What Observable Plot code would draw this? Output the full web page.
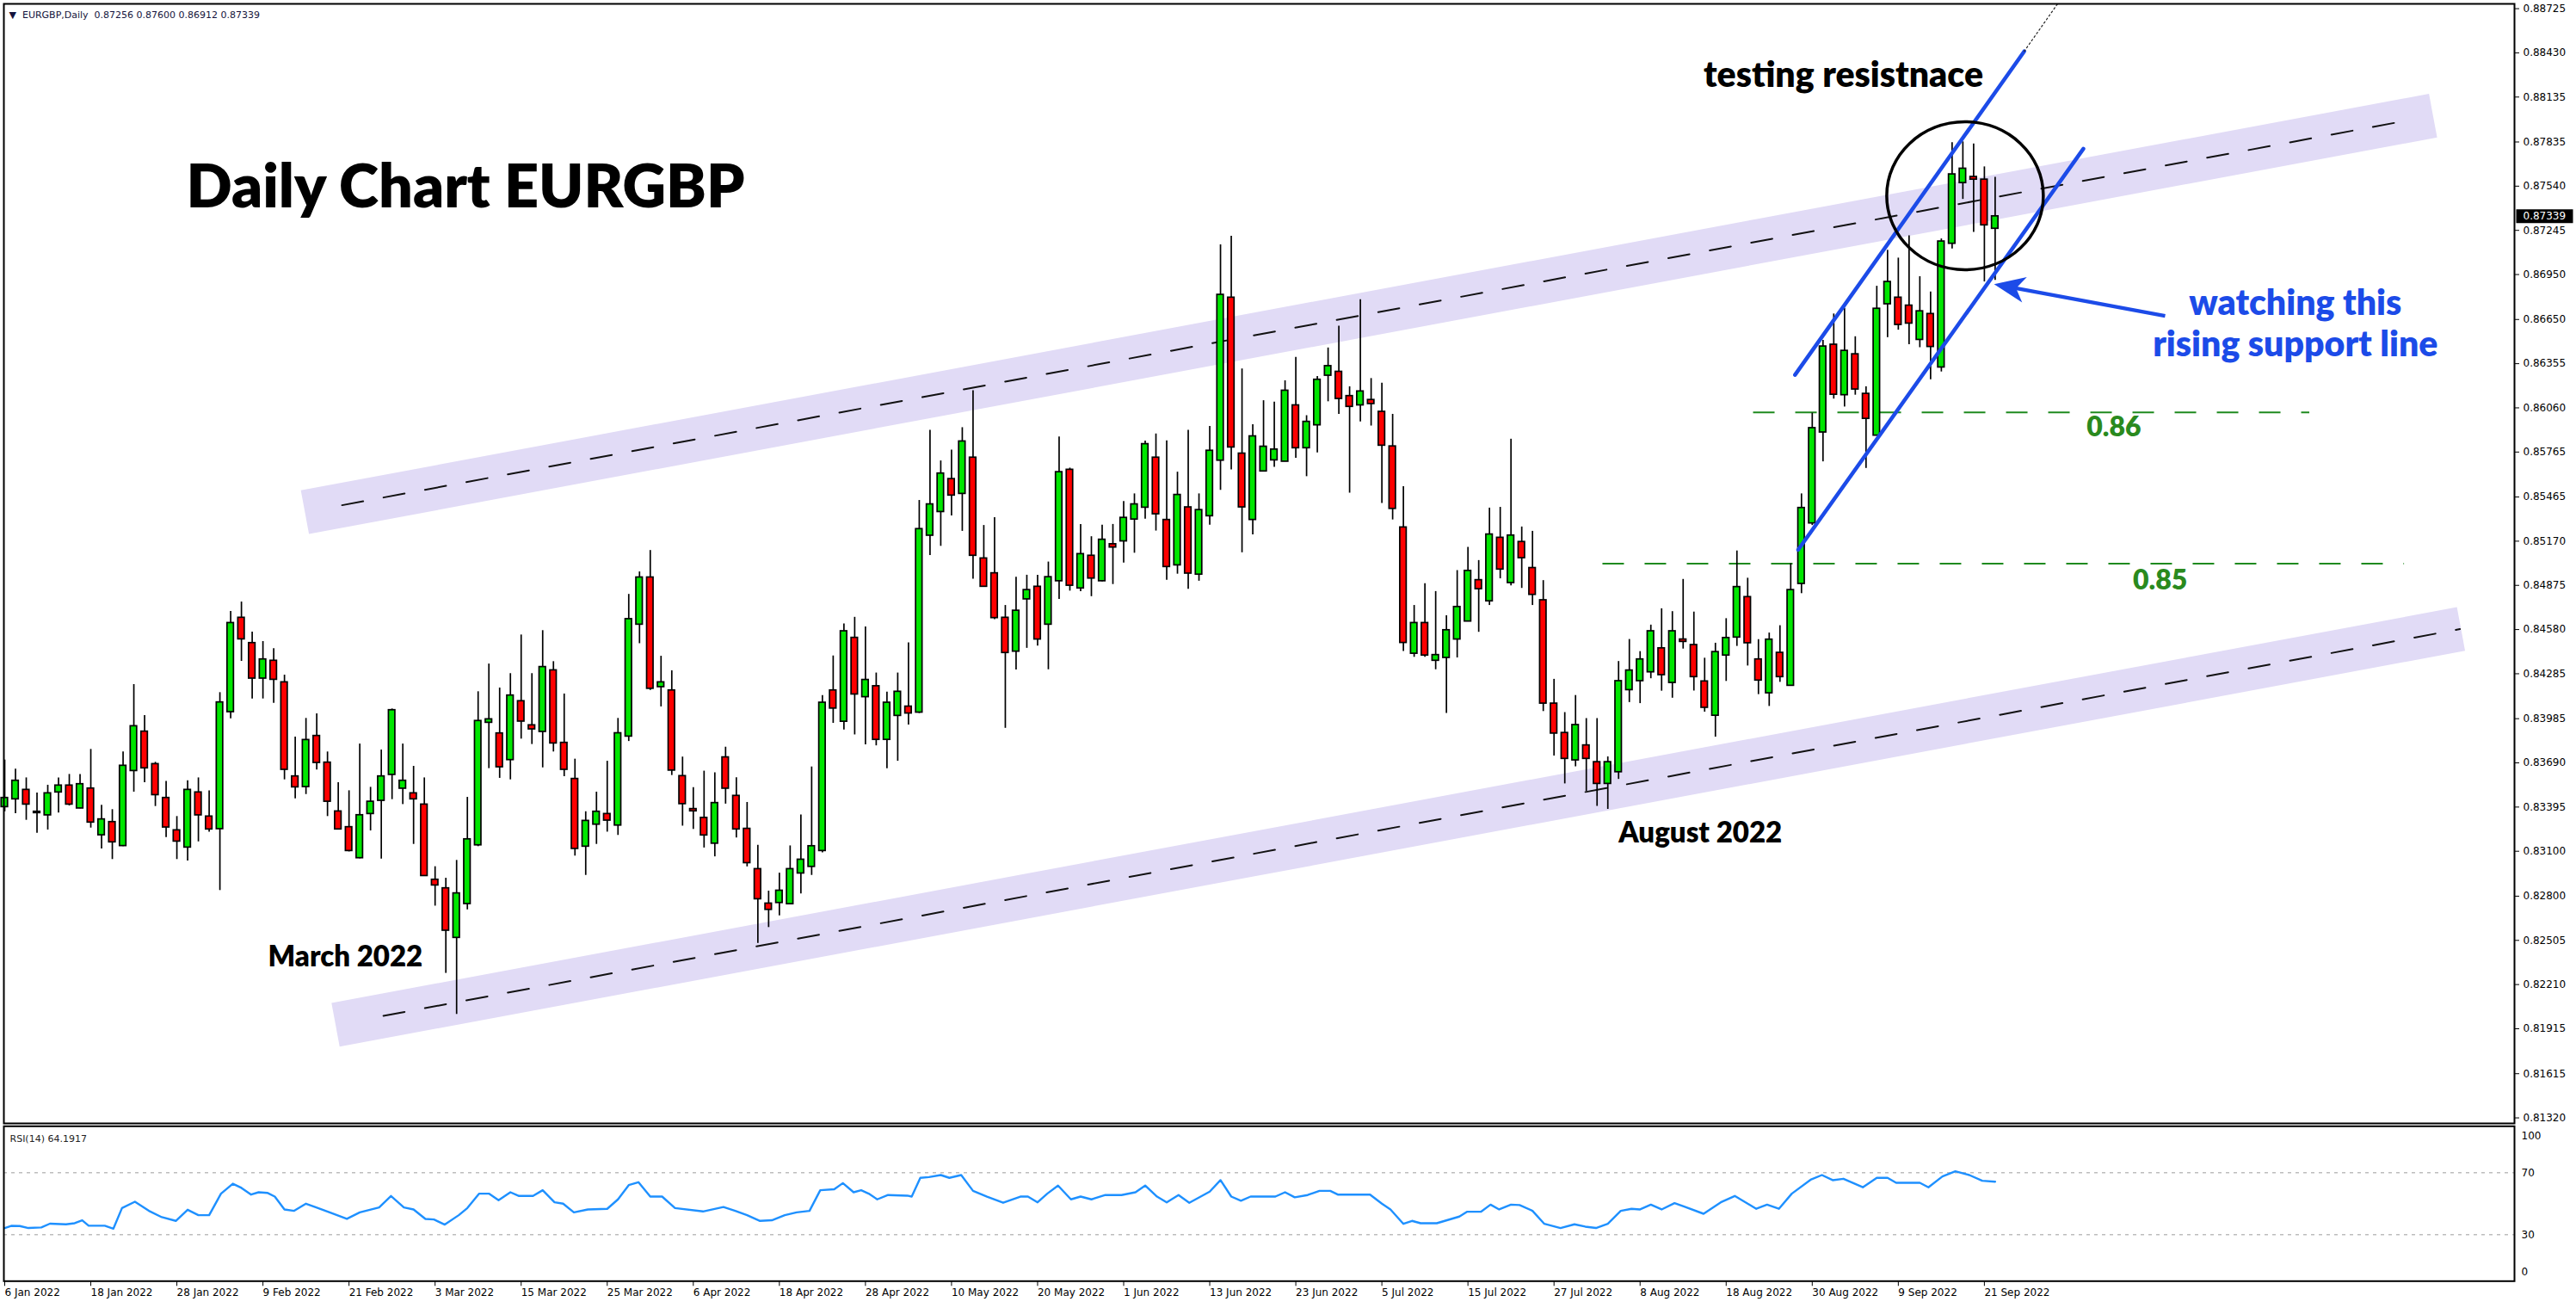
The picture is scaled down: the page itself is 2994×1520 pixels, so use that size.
<!DOCTYPE html>
<html>
<head>
<meta charset="utf-8">
<script src="https://cdn.jsdelivr.net/npm/d3@7"></script>
<script src="https://cdn.jsdelivr.net/npm/@observablehq/plot@0.6"></script>
<style>
  html, body { margin: 0; padding: 0; background: #fff; }
  #chart svg { display: block; }
</style>
</head>
<body>
<div id="chart"></div>
<script>
// ---------------- DATA ----------------
const open = [
0.83395,0.83447,0.83510,0.83364,0.83340,0.83493,0.83539,0.83386,0.83519,0.83207,
0.83295,0.83135,0.83636,0.83899,0.83682,0.83456,0.83240,0.83125,0.83493,0.83332,
0.83248,0.84029,0.84659,0.84490,0.84253,0.84372,0.84228,0.83600,0.83529,0.83870,
0.83692,0.83366,0.83261,0.83054,0.83349,0.83437,0.83610,0.83518,0.83487,0.83412,
0.82910,0.82853,0.82522,0.82748,0.83140,0.83958,0.83887,0.83709,0.84102,0.83941,
0.83897,0.84308,0.83824,0.83583,0.83131,0.83278,0.83349,0.83272,0.83866,0.84613,
0.84928,0.84196,0.84174,0.83602,0.83382,0.83323,0.83151,0.83727,0.83470,0.83250,
0.82981,0.82751,0.82755,0.82747,0.82952,0.82996,0.83102,0.84174,0.83965,0.84525,
0.84129,0.84202,0.83844,0.84004,0.84066,0.84026,0.85207,0.85365,0.85585,0.85486,
0.85728,0.85055,0.84956,0.84659,0.84433,0.84782,0.84866,0.84613,0.84903,0.85647,
0.84855,0.85073,0.84903,0.85150,0.85169,0.85315,0.85394,0.85728,0.85312,0.85009,
0.85396,0.84947,0.85337,0.85708,0.86796,0.85755,0.85312,0.85636,0.85710,0.85701,
0.86077,0.85791,0.85944,0.86275,0.86301,0.86139,0.86077,0.86113,0.86034,0.85803,
0.85262,0.84419,0.84624,0.84372,0.84391,0.84514,0.84634,0.84910,0.84769,0.85193,
0.84891,0.85165,0.84991,0.84776,0.84086,0.83890,0.83707,0.83807,0.83695,0.83550,
0.83628,0.84176,0.84236,0.84295,0.84455,0.84224,0.84514,0.84477,0.84234,0.84005,
0.84407,0.84527,0.84797,0.84381,0.84155,0.84425,0.84205,0.84885,0.85289,0.85896,
0.86482,0.86145,0.86418,0.86154,0.85875,0.86752,0.86796,0.86743,0.86514,0.86687,
0.86330,0.87156,0.87561,0.87602,0.87584,0.87256];

const high = [
0.83709,0.83648,0.83590,0.83489,0.83541,0.83590,0.83613,0.83613,0.83780,0.83407,
0.83378,0.83763,0.84213,0.84006,0.83694,0.83567,0.83332,0.83571,0.83590,0.83504,
0.84159,0.84701,0.84764,0.84563,0.84500,0.84452,0.84276,0.83862,0.83987,0.84017,
0.83763,0.83558,0.83504,0.83816,0.83527,0.83776,0.84050,0.83816,0.83667,0.83590,
0.82997,0.82920,0.83039,0.83460,0.84165,0.84350,0.84190,0.84286,0.84544,0.84286,
0.84573,0.84366,0.84150,0.83715,0.83364,0.83495,0.83701,0.83987,0.84815,0.84965,
0.85108,0.84402,0.84305,0.83729,0.83525,0.83635,0.83624,0.83795,0.83591,0.83426,
0.83140,0.82834,0.82954,0.83136,0.83342,0.83663,0.84140,0.84404,0.84618,0.84662,
0.84598,0.84290,0.84163,0.84290,0.84492,0.85442,0.85910,0.85706,0.85778,0.85928,
0.86174,0.85275,0.85328,0.84741,0.84930,0.84943,0.84943,0.85031,0.85866,0.85658,
0.85282,0.85200,0.85277,0.85282,0.85435,0.85486,0.85838,0.85886,0.85840,0.85631,
0.85910,0.85486,0.85937,0.87149,0.87206,0.86320,0.85948,0.86108,0.86098,0.86241,
0.86398,0.86008,0.86270,0.86460,0.86606,0.86201,0.86782,0.86256,0.86225,0.86017,
0.85534,0.84741,0.84886,0.84834,0.84672,0.84974,0.85129,0.85041,0.85391,0.85396,
0.85851,0.85265,0.85236,0.84907,0.84248,0.84026,0.84140,0.83986,0.83986,0.83730,
0.84367,0.84514,0.84433,0.84610,0.84719,0.84700,0.84915,0.84697,0.84389,0.84489,
0.84653,0.85105,0.84923,0.84513,0.84557,0.84606,0.85020,0.85486,0.86025,0.86511,
0.86687,0.86725,0.86535,0.86201,0.86872,0.87112,0.87060,0.87209,0.86936,0.86834,
0.87188,0.87830,0.87836,0.87822,0.87669,0.87600];

const low = [
0.83364,0.83351,0.83307,0.83221,0.83242,0.83355,0.83403,0.83384,0.83255,0.83116,
0.83045,0.83131,0.83495,0.83558,0.83399,0.83192,0.83045,0.83035,0.83163,0.83227,
0.82838,0.83985,0.84368,0.84117,0.84117,0.84088,0.83577,0.83450,0.83479,0.83642,
0.83332,0.83246,0.83096,0.83050,0.83236,0.83048,0.83445,0.83412,0.83146,0.82935,
0.82734,0.82285,0.82011,0.82709,0.83131,0.83652,0.83587,0.83577,0.83849,0.83813,
0.83657,0.83763,0.83598,0.83068,0.82939,0.83146,0.83228,0.83206,0.83833,0.84486,
0.84174,0.84064,0.83606,0.83268,0.83246,0.83122,0.83063,0.83415,0.83189,0.82996,
0.82485,0.82591,0.82669,0.82747,0.82815,0.82939,0.83090,0.83954,0.83910,0.83877,
0.83811,0.83804,0.83652,0.83701,0.83943,0.84020,0.85075,0.85136,0.85339,0.85236,
0.84917,0.84866,0.84646,0.83921,0.84310,0.84455,0.84470,0.84312,0.84782,0.84837,
0.84833,0.84800,0.84899,0.84881,0.85024,0.85090,0.85317,0.85238,0.84910,0.84950,
0.84849,0.84903,0.85277,0.85510,0.85646,0.85093,0.85212,0.85636,0.85663,0.85701,
0.85724,0.85601,0.85760,0.86101,0.86017,0.85491,0.85967,0.85939,0.85422,0.85312,
0.84434,0.84395,0.84395,0.84312,0.84021,0.84391,0.84634,0.84562,0.84741,0.84919,
0.84872,0.84855,0.84741,0.84033,0.83736,0.83550,0.83664,0.83500,0.83400,0.83380,
0.83580,0.84093,0.84086,0.84252,0.84169,0.84122,0.84450,0.84170,0.84029,0.83862,
0.84234,0.84468,0.84337,0.84146,0.84067,0.84228,0.84205,0.84820,0.85275,0.85700,
0.86119,0.86066,0.86145,0.85656,0.85875,0.86529,0.86579,0.86482,0.86462,0.86248,
0.86300,0.87121,0.87452,0.87232,0.86901,0.86912];

const close = [
0.83456,0.83571,0.83412,0.83355,0.83487,0.83539,0.83412,0.83548,0.83292,0.83313,
0.83160,0.83671,0.83935,0.83654,0.83475,0.83259,0.83165,0.83510,0.83340,0.83246,
0.84094,0.84624,0.84515,0.84253,0.84381,0.84245,0.83644,0.83527,0.83843,0.83690,
0.83431,0.83246,0.83102,0.83341,0.83431,0.83600,0.84042,0.83571,0.83447,0.82935,
0.82872,0.82570,0.82819,0.83180,0.83970,0.83981,0.83661,0.84140,0.83966,0.83914,
0.84330,0.83820,0.83644,0.83116,0.83303,0.83364,0.83305,0.83888,0.84650,0.84928,
0.84185,0.84228,0.83639,0.83415,0.83367,0.83206,0.83422,0.83518,0.83246,0.83021,
0.82780,0.82709,0.82837,0.82981,0.83044,0.83134,0.84092,0.84053,0.84569,0.84147,
0.84244,0.83844,0.84092,0.84165,0.84020,0.85251,0.85416,0.85622,0.85475,0.85836,
0.85073,0.84866,0.84657,0.84424,0.84706,0.84844,0.84514,0.84930,0.85631,0.84873,
0.85084,0.84921,0.85180,0.85128,0.85326,0.85416,0.85818,0.85350,0.84998,0.85479,
0.84954,0.85378,0.85774,0.86815,0.85796,0.85396,0.85870,0.85801,0.85782,0.86175,
0.85791,0.85967,0.86248,0.86339,0.86120,0.86067,0.86170,0.86086,0.85808,0.85386,
0.84491,0.84624,0.84407,0.84410,0.84576,0.84731,0.84972,0.84850,0.85215,0.84981,
0.85208,0.85057,0.84812,0.84086,0.83886,0.83717,0.83943,0.83717,0.83550,0.83695,
0.84236,0.84307,0.84381,0.84569,0.84276,0.84569,0.84498,0.84263,0.84058,0.84430,
0.84524,0.84864,0.84489,0.84240,0.84513,0.84263,0.84844,0.85392,0.85925,0.86470,
0.86148,0.86441,0.86183,0.85987,0.86722,0.86901,0.86614,0.86623,0.86705,0.86467,
0.87171,0.87619,0.87657,0.87584,0.87279,0.87339];

// RSI(14) readings: bar position and value
const rsiBar = [0,0.6,1.4,2.2,3.4,4.2,5.7,6.5,7.2,7.8,9.3,10.1,10.9,12.1,13.4,14.6,15.9,17.0,18.0,19.0,
20.1,21.2,22.0,22.9,23.6,24.4,25.1,26.0,26.9,28.0,28.9,30.2,31.8,33.0,34.8,35.9,37.1,38.0,39.1,39.9,
40.9,42.2,43.0,44.1,45.0,45.9,47.0,47.8,49.1,50.0,51.1,51.9,52.9,54.2,56.0,57.0,58.0,58.9,60.0,61.1,
62.3,64.9,66.8,67.9,69.0,70.2,71.3,72.5,73.6,74.8,75.8,77.1,77.9,78.9,79.6,80.3,81.1,82.1,83.9,84.3,
85.1,85.9,87.0,87.8,88.9,90.0,91.3,92.8,94.4,95.1,96.0,96.9,97.9,99.1,100.0,101.0,102.3,103.8,105.1,106.0,
107.1,108.0,109.1,110.1,112.0,113.0,114.0,114.9,115.8,118.1,119.0,119.9,121.1,122.2,123.2,123.9,126.9,128.0,128.8,130.0,
130.8,131.6,133.1,135.2,135.9,137.2,138.1,138.9,140.0,140.8,142.0,143.1,144.6,145.9,146.9,147.9,149.0,150.2,151.2,152.0,
153.0,154.0,155.2,156.1,157.9,159.5,160.8,161.8,162.8,163.8,164.9,166.1,167.9,168.9,169.9,170.9,172.7,174.0,175.0,175.8,
178.0,178.8,180.1,181.3,182.6,183.8,185.0];
const rsiValue = [34.3,35.7,35.6,34.3,34.7,37.1,36.7,37.4,39.3,35.8,35.8,33.9,47.2,51.3,45.4,41.3,38.9,46.1,42.6,42.6,
56.5,62.9,60.2,55.9,57.4,57.0,54.6,46.3,45.4,50.0,47.8,44.4,40.2,44.4,47.6,55.0,47.6,46.3,40.2,39.8,
36.5,42.6,47.2,56.5,56.5,52.2,57.4,55.0,55.0,58.7,50.9,50.0,44.4,46.3,46.7,52.8,62.0,63.9,54.6,54.6,
47.2,45.0,47.9,45.4,42.6,38.9,39.3,42.6,44.4,45.4,58.7,59.3,63.3,57.4,58.7,56.5,52.8,55.6,55.2,54.6,
66.7,67.2,68.5,66.7,68.5,58.3,54.6,50.6,54.6,54.6,50.9,56.5,61.7,52.8,54.6,52.8,55.6,55.6,57.4,61.7,
54.6,50.9,55.6,50.6,57.8,65.2,54.6,51.9,54.6,54.6,57.4,54.1,55.6,58.3,58.3,55.9,55.9,50.0,46.3,37.0,
38.9,37.4,37.4,41.7,44.8,44.8,49.4,46.3,49.4,49.1,45.4,37.0,34.3,36.7,35.2,34.3,37.0,45.4,46.7,46.3,
49.4,46.3,50.4,48.1,43.5,50.9,55.0,50.9,46.7,49.4,46.7,56.5,65.7,68.5,65.2,66.1,60.6,66.7,66.7,63.5,
63.5,60.6,67.6,70.9,68.5,64.8,64.2];

const dateTickBars = [0,8,16,24,32,40,48,56,64,72,80,88,96,104,112,120,128,136,144,152,160,168,176,184];
const dateLabels = ["6 Jan 2022","18 Jan 2022","28 Jan 2022","9 Feb 2022","21 Feb 2022","3 Mar 2022",
  "15 Mar 2022","25 Mar 2022","6 Apr 2022","18 Apr 2022","28 Apr 2022","10 May 2022","20 May 2022",
  "1 Jun 2022","13 Jun 2022","23 Jun 2022","5 Jul 2022","15 Jul 2022","27 Jul 2022","8 Aug 2022",
  "18 Aug 2022","30 Aug 2022","9 Sep 2022","21 Sep 2022"];

const priceTicks = [0.88725,0.88430,0.88135,0.87835,0.87540,0.87245,0.86950,0.86650,0.86355,0.86060,
  0.85765,0.85465,0.85170,0.84875,0.84580,0.84285,0.83985,0.83690,0.83395,0.83100,0.82800,0.82505,
  0.82210,0.81915,0.81615,0.81320];
const rsiTicks = [100, 70, 30, 0];
const rsiLevels = [70, 30];

// Channel / trend annotations (bar index, price)
const upperBand = [{i: 27.9, p: 0.85364}, {i: 225.7, p: 0.88011}];
const upperMid  = [{i: 31.35, p: 0.85410}, {i: 222.6, p: 0.87969}];
const lowerBand = [{i: 30.75, p: 0.81941}, {i: 228.3, p: 0.84584}];
const lowerMid  = [{i: 35.2, p: 0.82001}, {i: 228.2, p: 0.84583}];
const upperBlue = [{i: 166.4, p: 0.86280}, {i: 187.7, p: 0.88440}];
const upperBlueExt = [{i: 187.7, p: 0.88440}, {i: 190.8, p: 0.88757}];
const lowerBlue = [{i: 166.7, p: 0.85113}, {i: 193.2, p: 0.87790}];
const levels = [{p: 0.8603, from: 162.5, to: 214.2}, {p: 0.8502, from: 148.5, to: 223.0}];
const header = ["\u25BC  EURGBP,Daily  0.87256 0.87600 0.86912 0.87339"];
const rsiHeader = ["RSI(14) 64.1917"];

// ---------------- BUILD ----------------
const bars = open.map((o, k) => ({i: k, open: o, high: high[k], low: low[k], close: close[k]}));
const rsi = rsiBar.map((b, k) => ({bar: b, value: rsiValue[k]}));
const labelByBar = new Map(dateTickBars.map((b, k) => [b, dateLabels[k]]));
const lastClose = close[close.length - 1];

const W = 2994;
const X_DOMAIN = [-0.08, 233.27];
const BLUE = "#1c4be8";
const GREEN_TXT = "#2a8a1e";
const LAV = "#e1dbf6";

const ellipseSymbol = {draw(ctx) {
  const rx = 91, ry = 86, k = 0.5523;
  ctx.moveTo(rx, 0);
  ctx.bezierCurveTo(rx, k * ry, k * rx, ry, 0, ry);
  ctx.bezierCurveTo(-k * rx, ry, -rx, k * ry, -rx, 0);
  ctx.bezierCurveTo(-rx, -k * ry, -k * rx, -ry, 0, -ry);
  ctx.bezierCurveTo(k * rx, -ry, rx, -k * ry, rx, 0);
  ctx.closePath();
}};
const arrowHeadSymbol = {draw(ctx) {
  ctx.moveTo(0, 0); ctx.lineTo(-36, -15); ctx.lineTo(-26, 0); ctx.lineTo(-36, 15); ctx.closePath();
}};
const priceBoxSymbol = {draw(ctx) { ctx.rect(2, -8, 66, 16); }};

const annFont = "Lato, 'Open Sans', sans-serif";
const annWeight = 800;

const main = Plot.plot({
  width: W, height: 1306,
  marginLeft: 4, marginRight: 72, marginTop: 4, marginBottom: 1,
  x: {domain: X_DOMAIN, axis: null},
  y: {domain: [0.81283, 0.88757]},
  color: {type: "identity"},
  style: {fontFamily: "'DejaVu Sans', sans-serif", fontSize: "12px", background: "#fff", overflow: "visible"},
  marks: [
    // channel bands
    Plot.line(upperBand, {x: "i", y: "p", stroke: LAV, strokeWidth: 51.6, strokeLinecap: "butt"}),
    Plot.line(lowerBand, {x: "i", y: "p", stroke: LAV, strokeWidth: 51.6, strokeLinecap: "butt"}),
    Plot.line(upperMid, {x: "i", y: "p", stroke: "#111", strokeWidth: 2, strokeDasharray: "25,24"}),
    Plot.line(lowerMid, {x: "i", y: "p", stroke: "#111", strokeWidth: 2, strokeDasharray: "25,24"}),
    // horizontal levels
    Plot.link(levels, {x1: "from", x2: "to", y1: "p", y2: "p", stroke: "#1f8a1f", strokeWidth: 2, strokeDasharray: "25,24"}),
    // candles
    Plot.ruleX(bars, {x: "i", y1: "low", y2: "high", stroke: "#000", strokeWidth: 1.7}),
    Plot.rect(bars, {
      x1: d => d.i - 0.3, x2: d => d.i + 0.3, y1: "open", y2: "close",
      fill: d => d.close >= d.open ? "#00e600" : "#ff0000",
      stroke: "#000", strokeWidth: 1.7
    }),
    // rising channel
    Plot.line(upperBlue, {x: "i", y: "p", stroke: BLUE, strokeWidth: 4.5}),
    Plot.line(upperBlueExt, {x: "i", y: "p", stroke: "#222", strokeWidth: 1.2, strokeDasharray: "2,3"}),
    Plot.line(lowerBlue, {x: "i", y: "p", stroke: BLUE, strokeWidth: 4.5}),
    // ellipse
    Plot.dot([{i: 182.2, p: 0.87476}], {x: "i", y: "p", symbol: ellipseSymbol, fill: "none", stroke: "#000", strokeWidth: 3.5}),
    // arrow
    Plot.link([{x1: 200.8, y1: 0.86674, x2: 186.9, y2: 0.86859}], {x1: "x1", y1: "y1", x2: "x2", y2: "y2", stroke: BLUE, strokeWidth: 4.5}),
    Plot.dot([{i: 184.9, p: 0.86886}], {x: "i", y: "p", symbol: arrowHeadSymbol, fill: BLUE, stroke: "none", rotate: 190.5}),
    // texts
    Plot.text(["Daily Chart EURGBP"], {x: 16.87, y: 0.87401, text: d => d, textAnchor: "start", lineAnchor: "bottom",
      fontSize: 70, fontWeight: annWeight, fontFamily: annFont, fill: "#000", ariaLabel: "ann-title"}),
    Plot.text(["testing resistnace"], {x: 157.9, y: 0.88203, text: d => d, textAnchor: "start", lineAnchor: "bottom",
      fontSize: 41, fontWeight: annWeight, fontFamily: annFont, fill: "#000", ariaLabel: "ann-testing"}),
    Plot.text(["watching this"], {x: 212.9, y: 0.86680, text: d => d, textAnchor: "middle", lineAnchor: "bottom",
      fontSize: 41, fontWeight: annWeight, fontFamily: annFont, fill: BLUE, ariaLabel: "ann-watching"}),
    Plot.text(["rising support line"], {x: 212.9, y: 0.86402, text: d => d, textAnchor: "middle", lineAnchor: "bottom",
      fontSize: 41, fontWeight: annWeight, fontFamily: annFont, fill: BLUE, ariaLabel: "ann-rising"}),
    Plot.text(["March 2022"], {x: 24.47, y: 0.82331, text: d => d, textAnchor: "start", lineAnchor: "bottom",
      fontSize: 33, fontWeight: annWeight, fontFamily: annFont, fill: "#000", ariaLabel: "ann-march"}),
    Plot.text(["August 2022"], {x: 150.0, y: 0.83156, text: d => d, textAnchor: "start", lineAnchor: "bottom",
      fontSize: 33, fontWeight: annWeight, fontFamily: annFont, fill: "#000", ariaLabel: "ann-august"}),
    Plot.text(["0.86"], {x: 193.5, y: 0.85873, text: d => d, textAnchor: "start", lineAnchor: "bottom",
      fontSize: 32, fontWeight: annWeight, fontFamily: annFont, fill: GREEN_TXT, ariaLabel: "ann-086"}),
    Plot.text(["0.85"], {x: 197.8, y: 0.84850, text: d => d, textAnchor: "start", lineAnchor: "bottom",
      fontSize: 32, fontWeight: annWeight, fontFamily: annFont, fill: GREEN_TXT, ariaLabel: "ann-085"}),
    // header
    Plot.text(header, {frameAnchor: "top-left", dx: 6, dy: 9, text: d => d, textAnchor: "start", lineAnchor: "top",
      fontSize: 11, fill: "#14143c"}),
    // price axis
    Plot.axisY({anchor: "right", ticks: priceTicks, tickFormat: d => d.toFixed(5), tickSize: 5, tickPadding: 5,
      fontSize: 12, label: null}),
    Plot.dot([lastClose], {y: d => d, frameAnchor: "right", symbol: priceBoxSymbol, fill: "#000", stroke: "none"}),
    Plot.text([lastClose], {y: d => d, frameAnchor: "right", dx: 10, textAnchor: "start", text: d => d.toFixed(5),
      fill: "#fff", fontSize: 12}),
    Plot.frame({stroke: "#000", strokeWidth: 2})
  ]
});

const rsiPlot = Plot.plot({
  width: W, height: 214,
  marginLeft: 4, marginRight: 72, marginTop: 2.3, marginBottom: 31.7,
  x: {domain: X_DOMAIN},
  y: {domain: [0, 100], axis: null},
  style: {fontFamily: "'DejaVu Sans', sans-serif", fontSize: "12px", background: "#fff", overflow: "visible"},
  marks: [
    Plot.ruleY(rsiLevels, {stroke: "#bdbdbd", strokeWidth: 1.5, strokeDasharray: "4,5"}),
    Plot.line(rsi, {x: "bar", y: "value", stroke: "#1e90ff", strokeWidth: 2.4, curve: "linear"}),
    Plot.frame({stroke: "#000", strokeWidth: 2}),
    Plot.axisX({ticks: dateTickBars, tickFormat: d => labelByBar.get(d), tickSize: 6, tickPadding: 3,
      textAnchor: "start", fontSize: 12, label: null}),
    Plot.text(rsiTicks.filter(v => v === 70 || v === 30), {y: d => d, frameAnchor: "right", dx: 8, textAnchor: "start", text: d => String(d), fontSize: 12}),
    Plot.text(rsiTicks.filter(v => v === 100), {y: d => d, frameAnchor: "right", dx: 8, dy: 11, textAnchor: "start", text: d => String(d), fontSize: 12}),
    Plot.text(rsiTicks.filter(v => v === 0), {y: d => d, frameAnchor: "right", dx: 8, dy: -11, textAnchor: "start", text: d => String(d), fontSize: 12}),
    Plot.text(rsiHeader, {frameAnchor: "top-left", dx: 7, dy: 10, text: d => d, textAnchor: "start", lineAnchor: "top",
      fontSize: 11, fill: "#222"})
  ]
});

function fitText(svg, label, width) {
  svg.querySelectorAll(`g[aria-label="${label}"] text`).forEach(t => {
    t.setAttribute("textLength", width);
    t.setAttribute("lengthAdjust", "spacingAndGlyphs");
  });
}
fitText(main, "ann-title", 643);
fitText(main, "ann-testing", 327);
fitText(main, "ann-watching", 249);
fitText(main, "ann-rising", 338);
fitText(main, "ann-march", 172);
fitText(main, "ann-august", 185);
fitText(main, "ann-086", 67);
fitText(main, "ann-085", 65);

const root = document.getElementById("chart");
root.appendChild(main);
root.appendChild(rsiPlot);
</script>
</body>
</html>
